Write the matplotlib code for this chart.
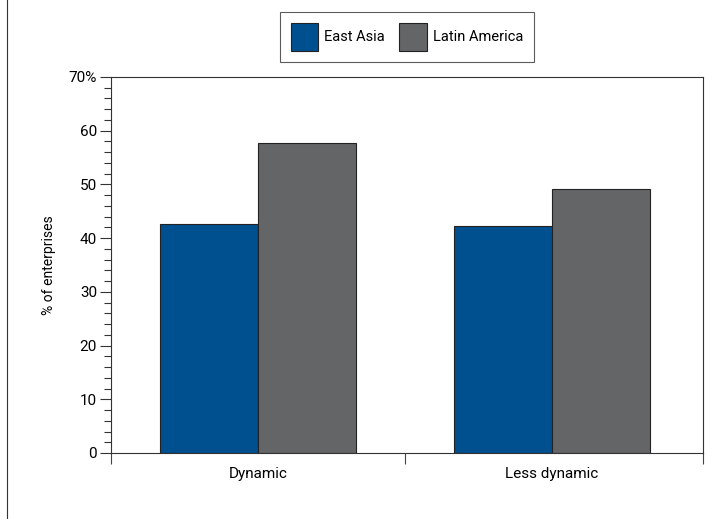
import matplotlib
matplotlib.use("Agg")
import matplotlib.pyplot as plt
from matplotlib.ticker import MultipleLocator, FuncFormatter
from matplotlib.lines import Line2D
import numpy as np

plt.rcParams['font.family'] = ['Liberation Sans Narrow', 'Roboto', 'DejaVu Sans']

categories = ["Dynamic", "Less dynamic"]
series = ["East Asia", "Latin America"]
east_asia = [42.7, 42.3]
latin_america = [57.8, 49.1]
colors = ["#00508F", "#646567"]

fig = plt.figure(figsize=(7.28, 5.19), dpi=100)
ax = fig.add_axes([111/728, 1-453/519, (703-111)/728, (453-77)/519])

x = np.arange(len(categories))
w = 1/3
ax.bar(x - w/2, east_asia, w, color=colors[0], edgecolor="#222222", linewidth=0.8, label=series[0], zorder=2)
ax.bar(x + w/2, latin_america, w, color=colors[1], edgecolor="#222222", linewidth=0.8, label=series[1], zorder=2)

ax.set_xlim(-0.5, 1.514)
ax.set_ylim(0, 70)
ax.yaxis.set_major_locator(MultipleLocator(10))
ax.yaxis.set_minor_locator(MultipleLocator(2))
ax.yaxis.set_major_formatter(FuncFormatter(lambda v, p: f"{int(v)}%" if v >= 70 else f"{int(v)}"))
ax.set_xticks([-0.5, 0.5, 1.514], minor=True)
ax.set_xticks(x)
ax.set_xticklabels(categories, fontsize=11)
ax.tick_params(axis='x', which='major', length=0, pad=10)
ax.tick_params(axis='x', which='minor', length=8, width=0.8, color="#444444", direction='out')
ax.tick_params(axis='y', which='major', length=8, width=0.8, labelsize=11, color="#333333", pad=2)
ax.tick_params(axis='y', which='minor', length=5, width=0.8, color="#333333")
for s in ax.spines.values():
    s.set_linewidth(0.8)
    s.set_color("#333333")
ax.set_ylabel("% of enterprises", fontsize=10)
ax.yaxis.set_label_coords(-0.093, 0.5)

leg = fig.legend(loc='center', bbox_to_anchor=(407/728, 1-37/519), ncol=2, frameon=True,
                 fancybox=False, edgecolor="#333333", fontsize=10.5, handlelength=1.9,
                 handleheight=2.5, borderpad=0.75, columnspacing=1.0, handletextpad=0.4)
leg.get_frame().set_linewidth(0.8)

fig.add_artist(Line2D([7/728, 7/728], [0, 1], color="#333333", linewidth=0.8, transform=fig.transFigure))

fig.savefig("out.png", dpi=100)
